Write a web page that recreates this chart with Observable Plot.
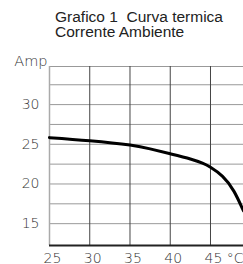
<!DOCTYPE html>
<html>
<head>
<meta charset="utf-8">
<script src="https://cdn.jsdelivr.net/npm/d3@7"></script>
<script src="https://cdn.jsdelivr.net/npm/@observablehq/plot@0.6"></script>
<style>
  html, body { margin: 0; padding: 0; background: #fff; }
  #wrap { position: relative; width: 243px; height: 264px; overflow: hidden; }
  #title { position: absolute; left: 55px; top: 10px; font-family: "Liberation Sans", Arial, sans-serif; font-size: 15.5px; line-height: 14.5px; color: #222; white-space: pre; }
  #chart { position: absolute; left: 0; top: 0; }
</style>
</head>
<body>
<div id="wrap">
  <div id="chart"></div>
  <div id="title">Grafico 1  Curva termica
Corrente Ambiente</div>
</div>
<script>
// Data
const temperature = [25, 30, 35, 37.5, 40, 42.5, 44, 45, 46.5, 47.9, 49.1];
const current     = [25.84, 25.45, 24.9, 24.42, 23.8, 23.15, 22.62, 22.1, 20.95, 19.1, 16.6];
const xTicks = [25, 30, 35, 40, 45];
const yTicks = [15, 20, 25, 30];
const yGrid = [15, 17.5, 20, 22.5, 25, 27.5, 30, 32.5];
const xGrid = [30, 35, 40, 45];

const xDomain = [25, 49.1];
const yDomain = [12.25, 34.8];

const rows = temperature.map((t, i) => ({t, a: current[i]}));
const font = "'DejaVu Sans', Verdana, sans-serif";
const fmt = d => d === 45 ? "45 °C" : String(d);

const plot = Plot.plot({
  width: 243,
  height: 264,
  marginTop: 66,
  marginBottom: 19,
  marginLeft: 49,
  marginRight: 0,
  style: {fontFamily: font, fontSize: "14px", color: "#333", background: "#fff", overflow: "visible"},
  x: {domain: xDomain, ticks: xTicks, tickFormat: fmt},
  y: {domain: yDomain, ticks: yTicks},
  marks: [
    Plot.ruleY(yGrid, {stroke: "#999", strokeWidth: 1}),
    Plot.ruleY([yDomain[1]], {stroke: "#999", strokeWidth: 1}),
    Plot.ruleX(xGrid, {stroke: "#444", strokeWidth: 1}),
    Plot.ruleX([xDomain[0]], {stroke: "#aaa", strokeWidth: 1.5}),
    Plot.ruleY([yDomain[0]], {stroke: "#222", strokeWidth: 2}),
    Plot.line(rows, {x: "t", y: "a", curve: "natural", stroke: "#000", strokeWidth: 3}),
    Plot.axisX({ticks: xTicks, tickSize: 0, tickPadding: 8, textAnchor: "start", dx: -6, fontWeight: 300, label: null, tickFormat: fmt}),
    Plot.axisY({ticks: yTicks, tickSize: 0, tickPadding: 10, fontWeight: 300, label: null}),
    Plot.text(["Amp"], {frameAnchor: "top-left", textAnchor: "end", lineAnchor: "bottom", dx: -2, dy: -1, fontSize: 14.5, fontWeight: 300, fill: "#333"})
  ]
});
document.getElementById("chart").appendChild(plot);
</script>
</body>
</html>
